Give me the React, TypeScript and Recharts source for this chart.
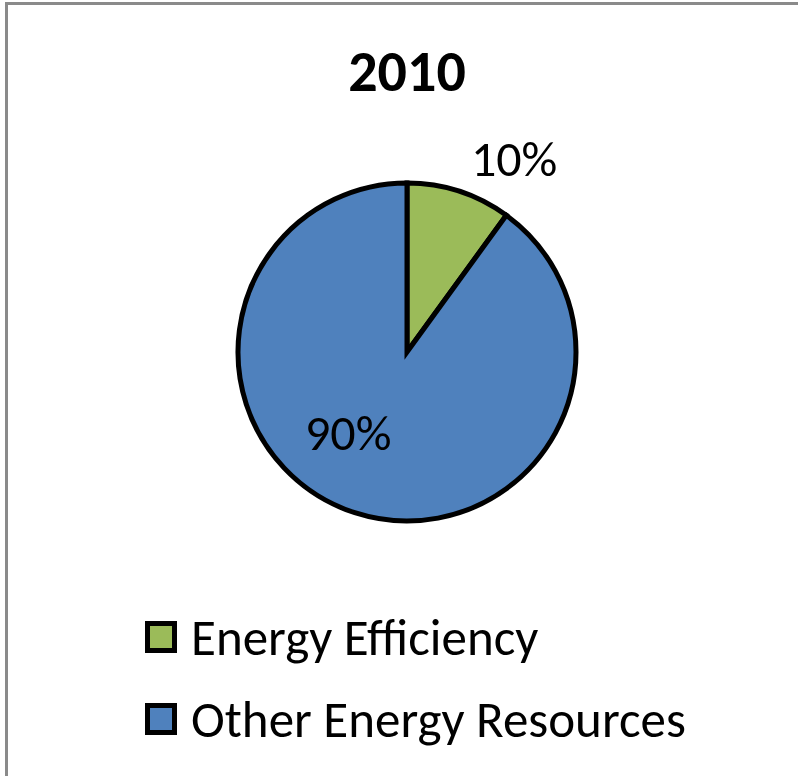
import React from "react";
import { PieChart, Pie, Cell, Legend } from "recharts";

const title = "2010";
const categories = ["Energy Efficiency", "Other Energy Resources"];
const shares = [10, 90];
const colors = ["#9BBB59", "#4F81BD"];

const data = categories.map((name, i) => ({ name, value: shares[i] }));

const FONT = "Carlito, Lato, 'Open Sans', sans-serif";
const RAD = Math.PI / 180;

// where Excel's "best fit" put each label (radius, angle in degrees)
const labelSpots = [
  { r: 221, a: 61 },
  { r: 100, a: -126 },
];

const renderLabel = (props: any) => {
  const { cx, cy, index, value } = props;
  const spot = labelSpots[index];
  const x = cx + spot.r * Math.cos(spot.a * RAD);
  const y = cy - spot.r * Math.sin(spot.a * RAD);
  return (
    <text
      x={x}
      y={y}
      textAnchor="middle"
      dominantBaseline="central"
      fill="#000"
      fontSize={50}
      fontFamily={FONT}
    >
      {`${value}%`}
    </text>
  );
};

const LegendList = () => (
  <div style={{ fontFamily: FONT, fontSize: 51, color: "#000" }}>
    {data.map((d, i) => (
      <div
        key={d.name}
        style={{ display: "flex", alignItems: "center", height: 82 }}
      >
        <span
          style={{
            display: "inline-block",
            width: 22,
            height: 22,
            background: colors[i],
            border: "5px solid #000",
            marginRight: 14,
          }}
        />
        <span>{d.name}</span>
      </div>
    ))}
  </div>
);

export default function App() {
  return (
    <div
      style={{
        position: "fixed",
        left: 0,
        top: 0,
        width: 798,
        height: 776,
        background: "#fff",
        overflow: "hidden",
      }}
    >
      <div
        style={{
          position: "absolute",
          left: 5,
          top: 2,
          width: 900,
          height: 900,
          borderTop: "3px solid #8a8a8a",
          borderLeft: "3px solid #8a8a8a",
        }}
      />
      <div
        style={{
          position: "absolute",
          left: 0,
          top: 38,
          width: 814,
          textAlign: "center",
          fontFamily: FONT,
          fontWeight: 700,
          fontSize: 58,
          lineHeight: "68px",
        }}
      >
        {title}
      </div>
      <PieChart
        width={798}
        height={776}
        margin={{ top: 0, right: 0, bottom: 0, left: 0 }}
        style={{ position: "absolute", left: 0, top: 0 }}
      >
        <Pie
          data={data}
          dataKey="value"
          nameKey="name"
          cx={407}
          cy={352}
          outerRadius={169}
          startAngle={90}
          endAngle={-270}
          stroke="#000"
          strokeWidth={5}
          label={renderLabel}
          labelLine={false}
          isAnimationActive={false}
        >
          {data.map((d, i) => (
            <Cell key={d.name} fill={colors[i]} />
          ))}
        </Pie>
        <Legend
          layout="horizontal"
          verticalAlign="bottom"
          align="left"
          content={<LegendList />}
          wrapperStyle={{ left: 145, top: 596, bottom: "auto", width: 640 }}
        />
      </PieChart>
    </div>
  );
}
